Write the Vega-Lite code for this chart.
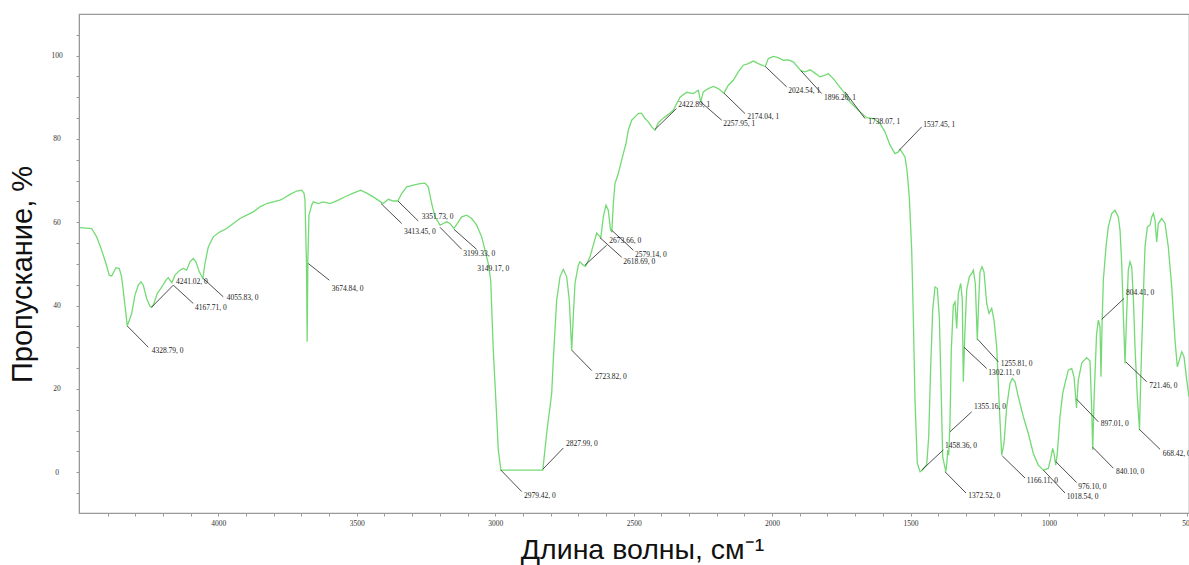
{
  "$schema": "https://vega.github.io/schema/vega-lite/v6.json",
  "autosize": {"type": "none"},
  "padding": {"left": 79, "top": 14, "right": 0, "bottom": 52},
  "width": 1110,
  "height": 499,
  "background": "white",
  "config": {
    "view": {"stroke": "#999999", "strokeWidth": 1.2},
    "axis": {"grid": false, "domainColor": "#999999", "tickColor": "#999999", "tickSize": 3, "labelFont": "Liberation Serif", "labelFontSize": 7.5, "labelColor": "#333333", "labelOverlap": false, "labelBound": false, "labelFlush": false, "titleFont": "Liberation Sans", "titleFontWeight": "normal", "titleColor": "#111111"}
  },
  "datasets": {
    "spectrum": [
      {"wn":4499.5,"T":58.7},{"wn":4457.2,"T":58.5},{"wn":4439.2,"T":56.5},{"wn":4421.1,"T":53.3},{"wn":4405.6,"T":50.1},{"wn":4393.7,"T":47.3},{"wn":4385,"T":47.1},{"wn":4369.5,"T":49.1},{"wn":4357.5,"T":48.9},{"wn":4348.9,"T":46.9},{"wn":4340.6,"T":42.1},{"wn":4330.8,"T":36.5},{"wn":4328.8,"T":35.1},{"wn":4312.8,"T":38.1},{"wn":4300.9,"T":42.5},{"wn":4288.9,"T":44.9},{"wn":4279.2,"T":45.7},{"wn":4270.9,"T":44.9},{"wn":4258.6,"T":41.7},{"wn":4247,"T":39.9},{"wn":4241,"T":39.6},{"wn":4234.8,"T":40.1},{"wn":4220.3,"T":42.9},{"wn":4204.4,"T":44.4},{"wn":4188.9,"T":46.1},{"wn":4180.6,"T":46.7},{"wn":4167.7,"T":45.5},{"wn":4156.4,"T":47.3},{"wn":4138.3,"T":48.5},{"wn":4126.4,"T":48.9},{"wn":4114.2,"T":48.5},{"wn":4102.2,"T":50.5},{"wn":4090.3,"T":51.3},{"wn":4080.6,"T":50.5},{"wn":4068.6,"T":48.1},{"wn":4055.8,"T":46.5},{"wn":4048.1,"T":50.1},{"wn":4036.1,"T":54.1},{"wn":4018.1,"T":56.5},{"wn":3993.9,"T":57.7},{"wn":3969.7,"T":58.5},{"wn":3945.8,"T":59.7},{"wn":3921.7,"T":60.9},{"wn":3897.5,"T":61.7},{"wn":3873.6,"T":62.5},{"wn":3849.4,"T":63.7},{"wn":3825.2,"T":64.5},{"wn":3801.4,"T":64.9},{"wn":3777.2,"T":65.3},{"wn":3765.3,"T":65.7},{"wn":3741.1,"T":66.7},{"wn":3716.9,"T":67.5},{"wn":3698.9,"T":67.7},{"wn":3690.5,"T":67.0},{"wn":3686.9,"T":65.3},{"wn":3681.5,"T":50.2},{"wn":3679,"T":31.3},{"wn":3676.5,"T":51},{"wn":3672.5,"T":61.7},{"wn":3662.7,"T":64.1},{"wn":3656.9,"T":64.9},{"wn":3638.9,"T":64.5},{"wn":3620.9,"T":64.9},{"wn":3596.6,"T":64.5},{"wn":3566.7,"T":65.3},{"wn":3536.3,"T":66.3},{"wn":3512.5,"T":67.0},{"wn":3485.8,"T":67.7},{"wn":3464.1,"T":67.0},{"wn":3440.3,"T":66.1},{"wn":3413.5,"T":64.9},{"wn":3404.2,"T":64.5},{"wn":3386.1,"T":65.5},{"wn":3368,"T":65.1},{"wn":3351.7,"T":65.1},{"wn":3337.7,"T":66.9},{"wn":3319.6,"T":68.5},{"wn":3295.8,"T":68.9},{"wn":3271.6,"T":69.3},{"wn":3253.6,"T":69.4},{"wn":3241.6,"T":68.5},{"wn":3229.4,"T":64.5},{"wn":3217.4,"T":61.3},{"wn":3199.3,"T":59.3},{"wn":3187.5,"T":59.7},{"wn":3175.2,"T":60.1},{"wn":3163.3,"T":59.7},{"wn":3149.2,"T":58.5},{"wn":3136.9,"T":59.7},{"wn":3121,"T":61.3},{"wn":3103,"T":61.7},{"wn":3084.9,"T":60.9},{"wn":3066.9,"T":59.3},{"wn":3048.8,"T":56.5},{"wn":3036.9,"T":53.3},{"wn":3025,"T":50.1},{"wn":3016.3,"T":46.1},{"wn":3006.9,"T":29.3},{"wn":2994.6,"T":13.3},{"wn":2988.8,"T":5.3},{"wn":2979.4,"T":0.5},{"wn":2828,"T":0.5},{"wn":2814.1,"T":9.4},{"wn":2796,"T":18.9},{"wn":2790.2,"T":26.9},{"wn":2778,"T":41.3},{"wn":2766,"T":46.9},{"wn":2754.1,"T":48.7},{"wn":2741.8,"T":46.9},{"wn":2732.4,"T":41.3},{"wn":2723.8,"T":29.3},{"wn":2718,"T":37.3},{"wn":2711.9,"T":45.3},{"wn":2699.9,"T":49.7},{"wn":2693.8,"T":50.5},{"wn":2681.9,"T":49.7},{"wn":2673.7,"T":49.4},{"wn":2657.7,"T":51.7},{"wn":2633.5,"T":57.4},{"wn":2618.7,"T":56.3},{"wn":2609.6,"T":61.3},{"wn":2599.9,"T":64.1},{"wn":2591.6,"T":62.9},{"wn":2583.7,"T":58.3},{"wn":2579.1,"T":57.6},{"wn":2572.5,"T":65.3},{"wn":2567.4,"T":69.3},{"wn":2555.5,"T":71.7},{"wn":2549.4,"T":73.3},{"wn":2537.4,"T":76.5},{"wn":2527.7,"T":78.9},{"wn":2519.4,"T":82.1},{"wn":2507.1,"T":84.5},{"wn":2495.2,"T":85.3},{"wn":2483.2,"T":86.1},{"wn":2471.7,"T":86.2},{"wn":2459,"T":84.9},{"wn":2447.1,"T":84.1},{"wn":2434.8,"T":82.9},{"wn":2422.9,"T":82.1},{"wn":2411,"T":83.9},{"wn":2393,"T":85.0},{"wn":2374.9,"T":85.9},{"wn":2356.9,"T":86.9},{"wn":2332.6,"T":90.0},{"wn":2308.5,"T":91.2},{"wn":2284.6,"T":90.9},{"wn":2266.6,"T":91.7},{"wn":2258,"T":88.9},{"wn":2248.5,"T":91.3},{"wn":2230.5,"T":92.1},{"wn":2212.4,"T":92.6},{"wn":2194.3,"T":92.1},{"wn":2174,"T":91.0},{"wn":2158.2,"T":92.9},{"wn":2140.2,"T":94.1},{"wn":2122.1,"T":96.1},{"wn":2104.1,"T":97.7},{"wn":2086,"T":98.1},{"wn":2068,"T":98.7},{"wn":2049.9,"T":98.1},{"wn":2024.5,"T":97.4},{"wn":2013.8,"T":99.3},{"wn":1995.7,"T":99.8},{"wn":1977.7,"T":99.5},{"wn":1959.6,"T":98.9},{"wn":1941.6,"T":99.0},{"wn":1923.5,"T":98.5},{"wn":1896.3,"T":96.4},{"wn":1881.2,"T":96.1},{"wn":1863.2,"T":96.6},{"wn":1845.1,"T":95.8},{"wn":1827.1,"T":94.9},{"wn":1809,"T":95.3},{"wn":1797.1,"T":95.7},{"wn":1779.1,"T":94.5},{"wn":1761,"T":92.9},{"wn":1738.1,"T":91.0},{"wn":1724.9,"T":89.3},{"wn":1706.8,"T":88.1},{"wn":1682.6,"T":86.5},{"wn":1658.4,"T":85.1},{"wn":1634.6,"T":84.9},{"wn":1610.4,"T":83.7},{"wn":1592.3,"T":81.7},{"wn":1574.3,"T":78.5},{"wn":1556.2,"T":76.5},{"wn":1544.3,"T":76.9},{"wn":1537.5,"T":77.5},{"wn":1520.1,"T":75.7},{"wn":1512.9,"T":72.5},{"wn":1504.6,"T":66.1},{"wn":1495.9,"T":53.3},{"wn":1490.1,"T":37.3},{"wn":1484,"T":17.3},{"wn":1475.7,"T":2.2},{"wn":1465.9,"T":0.1},{"wn":1458.4,"T":0.4},{"wn":1441.7,"T":1.8},{"wn":1434.5,"T":8.5},{"wn":1427.3,"T":25.3},{"wn":1420.1,"T":38.9},{"wn":1411.7,"T":44.5},{"wn":1403.4,"T":44.1},{"wn":1396.2,"T":37.3},{"wn":1390.1,"T":21.3},{"wn":1384,"T":3.7},{"wn":1372.5,"T":0.1},{"wn":1369,"T":2.2},{"wn":1365.9,"T":5.3},{"wn":1362.3,"T":4.1},{"wn":1357.6,"T":11.8},{"wn":1352.9,"T":29.3},{"wn":1345.7,"T":40.1},{"wn":1339.5,"T":40.9},{"wn":1333.4,"T":34.5},{"wn":1327.6,"T":42.9},{"wn":1318.9,"T":45.3},{"wn":1313.1,"T":41.3},{"wn":1309.5,"T":21.7},{"wn":1304.5,"T":32.5},{"wn":1297.3,"T":43.7},{"wn":1287.9,"T":46.9},{"wn":1279.2,"T":47.7},{"wn":1273.4,"T":48.5},{"wn":1266.2,"T":45.3},{"wn":1259,"T":31.7},{"wn":1253.9,"T":41.3},{"wn":1249.2,"T":48.1},{"wn":1242,"T":49.3},{"wn":1234.8,"T":48.1},{"wn":1225,"T":40.5},{"wn":1216.7,"T":38.1},{"wn":1207,"T":39.3},{"wn":1198.7,"T":36.5},{"wn":1188.9,"T":30.1},{"wn":1180.6,"T":17.3},{"wn":1170.9,"T":4.1},{"wn":1162.6,"T":6.9},{"wn":1152.8,"T":15.7},{"wn":1140.9,"T":21.3},{"wn":1132.6,"T":22.5},{"wn":1122.8,"T":21.7},{"wn":1110.9,"T":18.1},{"wn":1092.8,"T":13.3},{"wn":1074.8,"T":9.3},{"wn":1056.7,"T":4.5},{"wn":1038.7,"T":1.7},{"wn":1020.6,"T":0.5},{"wn":1002.5,"T":0.9},{"wn":993.9,"T":3.3},{"wn":986.7,"T":5.7},{"wn":982,"T":4.5},{"wn":975.9,"T":1.7},{"wn":970.1,"T":4.5},{"wn":960.3,"T":13.3},{"wn":950.6,"T":18.9},{"wn":942.3,"T":21.3},{"wn":930.3,"T":24.5},{"wn":918.1,"T":24.9},{"wn":909.8,"T":22.9},{"wn":900.7,"T":15.4},{"wn":894.2,"T":22.1},{"wn":881.9,"T":26.2},{"wn":863.9,"T":27.5},{"wn":852,"T":26.7},{"wn":845.8,"T":14.9},{"wn":842.2,"T":5.3},{"wn":837.5,"T":17.3},{"wn":828.5,"T":32.9},{"wn":822,"T":36.5},{"wn":815.9,"T":34.9},{"wn":812.3,"T":22.9},{"wn":808.6,"T":34.9},{"wn":803.9,"T":46.1},{"wn":794.2,"T":54.1},{"wn":785.9,"T":58.9},{"wn":773.6,"T":62.1},{"wn":761.7,"T":62.9},{"wn":749.8,"T":61.3},{"wn":743.6,"T":58.1},{"wn":737.5,"T":50.1},{"wn":731.7,"T":38.1},{"wn":725.6,"T":26.1},{"wn":719.5,"T":38.1},{"wn":713.7,"T":48.5},{"wn":707.5,"T":50.5},{"wn":701.4,"T":49.3},{"wn":695.6,"T":42.1},{"wn":689.5,"T":30.1},{"wn":681.2,"T":18.1},{"wn":673.2,"T":10.1},{"wn":668.9,"T":22.1},{"wn":661.7,"T":38.1},{"wn":653.3,"T":54.1},{"wn":645,"T":58.9},{"wn":635.3,"T":59.3},{"wn":629.1,"T":61.3},{"wn":623.3,"T":62.1},{"wn":617.2,"T":60.5},{"wn":611.1,"T":55.3},{"wn":605.3,"T":59.7},{"wn":593,"T":60.9},{"wn":581.1,"T":59.7},{"wn":569.2,"T":54.1},{"wn":556.9,"T":44.5},{"wn":545,"T":31.7},{"wn":536.7,"T":25.3},{"wn":529.5,"T":26.9},{"wn":520.8,"T":28.9},{"wn":512.5,"T":27.7},{"wn":502.7,"T":22.1},{"wn":494.4,"T":18.1}
    ],
    "peaks": [
      {"label":"4328.79, 0","wn":4328.8,"T":35.1,"wn2":4252.8,"T2":30.0,"tx":4240.6,"ty":29.1},
      {"label":"4241.02, 0","wn":4241,"T":39.6,"wn2":4162.5,"T2":44.9,"tx":4152.8,"ty":45.7},
      {"label":"4167.71, 0","wn":4162.5,"T":44.9,"wn2":4090.3,"T2":40.5,"tx":4084.2,"ty":39.3},
      {"label":"4055.83, 0","wn":4054.2,"T":46.5,"wn2":3982,"T2":42.1,"tx":3969.7,"ty":41.7},
      {"label":"3674.84, 0","wn":3675,"T":50.1,"wn2":3599.2,"T2":46.1,"tx":3590.5,"ty":44},
      {"label":"3413.45, 0","wn":3412.4,"T":64.5,"wn2":3337.7,"T2":59.7,"tx":3329.4,"ty":57.7},
      {"label":"3351.73, 0","wn":3351.1,"T":65.1,"wn2":3277.7,"T2":60.3,"tx":3265.5,"ty":61.3},
      {"label":"3199.33, 0","wn":3199.4,"T":58.8,"wn2":3121,"T2":53.5,"tx":3115.2,"ty":52.5},
      {"label":"3149.17, 0","wn":3148.8,"T":58.3,"wn2":3066.9,"T2":53.5,"tx":3064.7,"ty":48.7},
      {"label":"2979.42, 0","wn":2979.4,"T":0.5,"wn2":2904.4,"T2":-4.65,"tx":2896,"ty":-5.6},
      {"label":"2827.99, 0","wn":2828,"T":0.7,"wn2":2754.1,"T2":5.8,"tx":2744.4,"ty":6.7},
      {"label":"2723.82, 0","wn":2723.8,"T":29.3,"wn2":2651.5,"T2":24.4,"tx":2639.6,"ty":22.9},
      {"label":"2673.66, 0","wn":2675.7,"T":49.7,"wn2":2597.4,"T2":54.5,"tx":2588,"ty":55.6},
      {"label":"2618.69, 0","wn":2621.6,"T":56.3,"wn2":2543.2,"T2":51.6,"tx":2537.5,"ty":50.4},
      {"label":"2579.14, 0","wn":2579.4,"T":58.1,"wn2":2501.3,"T2":53.3,"tx":2495.2,"ty":52.2},
      {"label":"2422.89, 1","wn":2422.9,"T":82.3,"wn2":2345.3,"T2":87.3,"tx":2338.8,"ty":88.2},
      {"label":"2257.95, 1","wn":2258,"T":88.9,"wn2":2182,"T2":84.5,"tx":2176.3,"ty":83.5},
      {"label":"2174.04, 1","wn":2174,"T":91.0,"wn2":2097.9,"T2":86.1,"tx":2089.6,"ty":85.3},
      {"label":"2024.54, 1","wn":2024.5,"T":97.4,"wn2":1947.3,"T2":92.5,"tx":1941.5,"ty":91.5},
      {"label":"1896.26, 1","wn":1896.3,"T":96.4,"wn2":1820.9,"T2":90.9,"tx":1812.6,"ty":89.8},
      {"label":"1738.07, 1","wn":1736.8,"T":91.3,"wn2":1664.5,"T2":84.9,"tx":1652.6,"ty":84.1},
      {"label":"1537.45, 1","wn":1540.7,"T":77.3,"wn2":1459.8,"T2":82.9,"tx":1454,"ty":83.3},
      {"label":"1458.36, 0","wn":1459.8,"T":0.5,"wn2":1381.8,"T2":5.35,"tx":1375.6,"ty":6.3},
      {"label":"1355.16, 0","wn":1357.6,"T":9.7,"wn2":1279.2,"T2":14.5,"tx":1270.9,"ty":15.6},
      {"label":"1372.52, 0","wn":1375.6,"T":0.1,"wn2":1299.8,"T2":-5.0,"tx":1291.5,"ty":-5.7},
      {"label":"1302.11, 0","wn":1307,"T":30,"wn2":1225,"T2":24.9,"tx":1219.2,"ty":23.9},
      {"label":"1255.81, 0","wn":1257.5,"T":31.9,"wn2":1183.1,"T2":26.5,"tx":1174.5,"ty":26},
      {"label":"1166.11, 0","wn":1168.7,"T":3.9,"wn2":1086.7,"T2":-1.4,"tx":1080.6,"ty":-2.0},
      {"label":"1018.54, 0","wn":1020.6,"T":0.5,"wn2":942.3,"T2":-5.0,"tx":936.2,"ty":-5.85},
      {"label":"976.10, 0","wn":975.9,"T":2.55,"wn2":900,"T2":-2.5,"tx":894.2,"ty":-3.45},
      {"label":"897.01, 0","wn":900,"T":17.5,"wn2":822,"T2":12.1,"tx":813.3,"ty":11.6},
      {"label":"840.10, 0","wn":842.2,"T":6.0,"wn2":767.8,"T2":0.96,"tx":758.1,"ty":0.15},
      {"label":"804.41, 0","wn":809.7,"T":36.7,"wn2":729.2,"T2":41.7,"tx":722,"ty":42.9},
      {"label":"721.46, 0","wn":723.1,"T":26.5,"wn2":647.2,"T2":21.7,"tx":637.8,"ty":20.7},
      {"label":"668.42, 0","wn":673.9,"T":10.3,"wn2":599.2,"T2":5.5,"tx":589.5,"ty":4.4}
    ]
  },
  "encoding": {
    "x": {"type": "quantitative",
      "scale": {"domain": [494.5, 4503], "reverse": true, "nice": false, "zero": false},
      "axis": {"title": "Длина волны, см⁻¹", "titleFontSize": 28.5, "titleX": 563, "titleY": 45, "titleAlign": "center", "titleBaseline": "alphabetic",
        "values": [500,600,700,800,900,1000,1100,1200,1300,1400,1500,1600,1700,1800,1900,2000,2100,2200,2300,2400,2500,2600,2700,2800,2900,3000,3100,3200,3300,3400,3500,3600,3700,3800,3900,4000,4100,4200,4300,4400],
        "format": "d", "labelExpr": "datum.value % 500 === 0 ? datum.label : ''", "labelPadding": 3}},
    "y": {"type": "quantitative",
      "scale": {"domain": [-9.8, 110], "nice": false, "zero": false},
      "axis": {"title": "Пропускание, %", "titleFontSize": 29, "titleX": -48, "titleY": 260, "titleAlign": "center", "titleBaseline": "alphabetic", "titleAngle": -90,
        "values": [-5,0,5,10,15,20,25,30,35,40,45,50,55,60,65,70,75,80,85,90,95,100,105],
        "format": "d", "labelExpr": "datum.value % 20 === 0 ? datum.label : ''", "labelAlign": "center", "labelPadding": 19.5}}
  },
  "layer": [
    {
      "data": {"name": "spectrum"},
      "mark": {"type": "line", "color": "#74da74", "strokeWidth": 1.3, "clip": true},
      "encoding": {
        "x": {"field": "wn"},
        "y": {"field": "T"}
      }
    },
    {
      "data": {"name": "peaks"},
      "mark": {"type": "rule", "color": "#3a3a3a", "strokeWidth": 0.9},
      "encoding": {
        "x": {"field": "wn"},
        "y": {"field": "T"},
        "x2": {"field": "wn2"},
        "y2": {"field": "T2"}
      }
    },
    {
      "data": {"name": "peaks"},
      "mark": {"type": "text", "align": "left", "baseline": "middle", "font": "Liberation Serif", "fontSize": 7.5, "color": "#222222"},
      "encoding": {
        "x": {"field": "tx"},
        "y": {"field": "ty"},
        "text": {"field": "label"}
      }
    }
  ]
}
